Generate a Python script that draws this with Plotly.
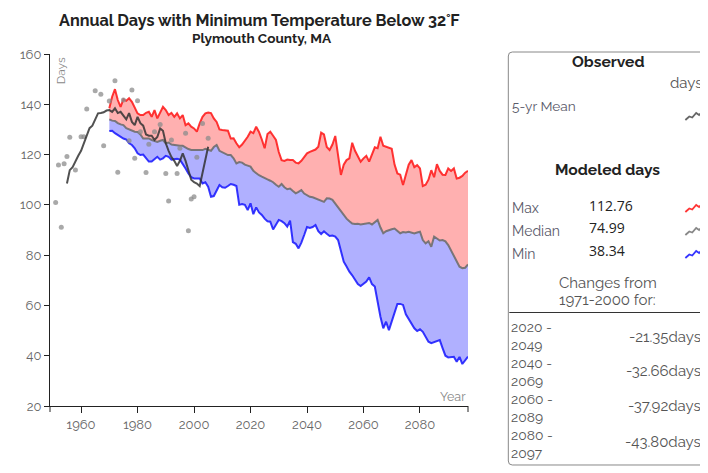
import plotly.graph_objects as go

# ---------------- data ----------------
model_years = list(range(1970, 2098))
model_max = [
    138.4, 143, 146, 141.7, 139, 142, 141.4, 142.4, 141, 139,
    136.4, 135.7, 135.7, 136.6, 137, 135, 137.7, 134.4, 136.4, 139,
    137.7, 135.7, 136.6, 135, 136.4, 134.4, 135.7, 131.7, 132.4, 131.1,
    130.4, 129.1, 132.4, 135, 136.4, 136.7, 136.5, 134.4, 133, 130,
    129.8, 129.5, 129.5, 126.4, 126.5, 124.5, 122.9, 124, 125.5, 127.1,
    129.1, 128.5, 131.1, 129, 126, 122.5, 128.2, 129.1, 127.5, 125.8,
    121, 117.8, 117.5, 118, 117.8, 117.8, 116.8, 116.5, 117.5, 119.1,
    120.5, 121.1, 121.6, 122, 123.1, 128.7, 128, 123, 121.8, 124,
    127.4, 120, 111.9, 116, 117.8, 118.5, 124.7, 121.5, 119.5, 117.2,
    118.5, 119.5, 117.2, 120, 122.9, 122.5, 127.1, 123.5, 123, 122.5,
    122.3, 116, 112.5, 112, 107.9, 112, 116, 117.8, 115, 115.8,
    114.5, 107.5, 108, 110, 113.8, 111, 116.2, 113.5, 112, 111.9,
    114.5, 113.5, 114.5, 110.5, 110.8, 111.5, 112.8, 113.5,
]
model_median = [
    134, 133.5, 133.4, 132.5, 132, 131.7, 130.5, 130, 129.5, 129.1,
    129, 128, 126.4, 126.5, 126.4, 125.8, 125.5, 125, 125.5, 125.8,
    124.5, 124.8, 124, 123.8, 123.8, 123.5, 123.5, 122.8, 122.2, 121.8,
    121.8, 121.8, 121.9, 121.8, 122.3, 122, 121.5, 123, 123.8, 121.5,
    121, 120.5, 119.8, 119.8, 118.5, 116.5, 117, 116.8, 116, 115.6,
    115.2, 113.5, 112.5, 111.8, 111.2, 110.8, 110.1, 109.6, 109, 108,
    107.2, 108.3, 107, 106.2, 106.5, 105.5, 104.6, 105.2, 105.9, 104.5,
    103.8, 103.2, 103, 102.5, 101.9, 101.5, 101.2, 102.6, 102.5, 102,
    100.5, 99.3, 97.5, 96, 94.5, 93.5, 92.6, 92.4, 92.5, 92.2,
    92.4, 92.6, 92.8, 92.2, 93, 94, 91, 88.7, 89.5, 90,
    90.3, 90.6, 89.8, 88.7, 89.2, 89, 89.3, 88.9, 88.6, 89,
    89.3, 86, 84.7, 85.5, 83.3, 87.4, 86.5, 85.8, 86, 85.5,
    84, 82, 80, 77.5, 75.4, 74.8, 75, 76.3,
]
model_min = [
    129.4, 129.5, 128.5, 127.8, 127, 126.4, 126, 124.5, 123.8, 122.5,
    120.5, 119.8, 120, 118.5, 117.2, 117.2, 118, 119.1, 118, 118.5,
    119.5, 119.1, 118, 118.3, 118.3, 118, 116.5, 114.5, 112.5, 111,
    110.5, 110.6, 110.5, 108.5, 109, 107.2, 103.2, 103.5, 106, 107.9,
    107, 106.8, 107.5, 108.3, 108, 107.5, 100, 100.3, 100, 97.9,
    100.6, 96.3, 99, 97, 96, 94.5, 93.5, 93.3, 90.2, 92,
    94, 93.5, 92.7, 91.3, 93.7, 85.2, 84.5, 82.7, 85, 88,
    91.2, 90.8, 91.2, 92, 89.5, 88.4, 89.5, 88.5, 87.6, 87.8,
    87.4, 86, 81.5, 77.4, 75.5, 73.4, 72, 70.1, 68.5, 67.7,
    68.5, 69.5, 71.2, 68.5, 67.5, 60.8, 55.5, 50.9, 53.5, 50.2,
    53.5, 57, 60.6, 60.6, 60.2, 56.5, 54.5, 52.5, 50.9, 49.8,
    50.5, 49.5, 47.5, 45.6, 45, 45.5, 46, 46.2, 43, 40,
    39.3, 39.6, 39.6, 37.6, 39.5, 36.7, 38, 39.6,
]

mean_years = list(range(1955, 2006))
mean_5yr = [
    108.5, 113.8, 115, 117.5, 119.5, 121.5, 124.5, 128, 130.5, 131.5,
    134, 136.4, 136.5, 136.8, 137.5, 137.7, 137, 138.4, 136.5, 137,
    135.5, 134, 136.5, 133, 131.7, 135, 132.5, 131.5, 128, 127.5,
    127.5, 125.8, 127, 130.4, 129.5, 124.5, 121.5, 119, 117.5, 115.5,
    117.5, 120.5, 117.5, 113.5, 110, 109, 108.5, 107.5, 113, 118,
    123.1,
]

obs_years = [1951, 1952, 1953, 1954, 1955, 1956, 1958, 1960, 1961, 1962,
             1965, 1967, 1968, 1970, 1972, 1973, 1975, 1977, 1978, 1979,
             1980, 1981, 1983, 1984, 1986, 1988, 1990, 1991, 1992, 1994,
             1995, 1997, 1998, 1999, 2000, 2001, 2003, 2005]
obs_days = [100.9, 115.9, 91.1, 116.3, 119.2, 126.9, 113.9, 127.1, 127.1, 138.1,
            145.4, 144, 123.5, 141.3, 149.4, 113, 141.7, 125.5, 145.7, 118.5,
            141.4, 129.1, 112.9, 124.1, 129.1, 132, 112.5, 101.5, 125.8, 112.5,
            122.5, 128.5, 89.7, 102.3, 103.2, 118.9, 132.4, 126.5]

x_ticks = [1960, 1980, 2000, 2020, 2040, 2060, 2080]
y_ticks = [20, 40, 60, 80, 100, 120, 140, 160]

legend_values = ["112.76", "74.99", "38.34"]
change_periods = [("2020 -", "2049"), ("2040 -", "2069"), ("2060 -", "2089"), ("2080 -", "2097")]
change_values = ["-21.35days", "-32.66days", "-37.92days", "-43.80days"]

# ---------------- layout geometry (window pixels; page body has 8px margin) ----------------
OFF = 8
WIN_W, WIN_H = 708, 473
W, H = WIN_W - OFF, WIN_H - OFF
L, R, T, B = 43, 468, 54, 406
FONT = "Raleway, Lato, sans-serif"
NUMFONT = "'Open Sans', sans-serif"


def X(px):
    return (px - L) / (R - L)


def Y(py):
    return (B - py) / (B - T)


fig = go.Figure()

# fills (drawn first, lines on top)
fig.add_trace(go.Scatter(x=model_years, y=model_min, mode="lines",
                         line=dict(width=0, color="rgba(0,0,0,0)"),
                         hoverinfo="skip", showlegend=False))
fig.add_trace(go.Scatter(x=model_years, y=model_median, mode="lines",
                         line=dict(width=0, color="rgba(0,0,0,0)"),
                         fill="tonexty", fillcolor="rgba(0,0,255,0.31)",
                         hoverinfo="skip", showlegend=False))
fig.add_trace(go.Scatter(x=model_years, y=model_max, mode="lines",
                         line=dict(width=0, color="rgba(0,0,0,0)"),
                         fill="tonexty", fillcolor="rgba(255,0,0,0.31)",
                         hoverinfo="skip", showlegend=False))

# lines
fig.add_trace(go.Scatter(x=model_years, y=model_max, mode="lines",
                         line=dict(width=2, color="rgba(255,20,20,0.85)"),
                         name="Max", showlegend=False))
fig.add_trace(go.Scatter(x=model_years, y=model_min, mode="lines",
                         line=dict(width=2, color="rgba(20,20,255,0.85)"),
                         name="Min", showlegend=False))
fig.add_trace(go.Scatter(x=model_years, y=model_median, mode="lines",
                         line=dict(width=2, color="rgba(110,110,110,0.9)"),
                         name="Median", showlegend=False))

# observed
fig.add_trace(go.Scatter(x=obs_years, y=obs_days, mode="markers",
                         marker=dict(size=5, color="rgba(140,140,140,0.75)"),
                         name="Observed", showlegend=False))
fig.add_trace(go.Scatter(x=mean_years, y=mean_5yr, mode="lines",
                         line=dict(width=2, color="rgba(50,50,50,0.85)"),
                         name="5-yr Mean", showlegend=False))

annotations = []


def text(px, py, s, size=12, color="#555", bold=False, xanchor="left", yanchor="middle",
         family=FONT, align="left"):
    annotations.append(dict(
        x=X(px), y=Y(py), xref="paper", yref="paper", text=f"<b>{s}</b>" if bold else s,
        showarrow=False, xanchor=xanchor, yanchor=yanchor, align=align,
        font=dict(family=family, size=size, color=color)))


# titles
text(256, 8.5, "Annual Days with Minimum Temperature Below 32˚F", size=16.2, color="#222", bold=True,
     xanchor="center", yanchor="top")
text(259, 38, "Plymouth County, MA", size=13.6, color="#222", bold=True, xanchor="center")

# axis labels
annotations.append(dict(x=X(55), y=Y(55), xref="paper", yref="paper", text="Days", textangle=-90,
                        showarrow=False, xanchor="center", yanchor="top",
                        font=dict(family=FONT, size=12, color="#888")))
text(468, 396, "Year", size=12.5, color="#888", xanchor="right")

# legend panel
text(610, 62, "Observed", size=15.6, color="#222", bold=True, xanchor="center")
text(708, 83, "days", size=15, color="#555", xanchor="right")
text(511, 106, "5-yr Mean", size=13.7, color="#5a5a6a")
text(610, 169, "Modeled days", size=15.6, color="#222", bold=True, xanchor="center")
for (lab, py), val in zip([("Max", 208), ("Median", 231), ("Min", 254)], legend_values):
    text(511, py, lab, size=14, color="#5a5a6a")
    text(589, py - 3, val, size=14, color="#222", family=NUMFONT)
text(610, 283, "Changes from", size=15, color="#555", xanchor="center")
text(610, 300, "1971-2000 for:", size=15, color="#555", xanchor="center")

# period labels as one block of lines (tightly packed as in the reference)
period_lines = "<br>".join(f"{a}<br>{b}" for a, b in change_periods)
text(510, 389.7, period_lines, size=13.85, color="#555")
row_y = [336.5, 370.5, 405.5, 441.5]
for v, ry in zip(change_values, row_y):
    text(707, ry, v, size=15, color="#555", xanchor="right")

shapes = []


def path_px(points):
    return "M " + " L ".join(f"{X(px):.5f},{Y(py):.5f}" for px, py in points)


# rounded legend box
bx0, by0, bx1, by1, r = 509, 52, 716, 465, 4
box = (f"M {X(bx1):.5f},{Y(by0):.5f} L {X(bx0 + r):.5f},{Y(by0):.5f} "
       f"Q {X(bx0):.5f},{Y(by0):.5f} {X(bx0):.5f},{Y(by0 + r):.5f} "
       f"L {X(bx0):.5f},{Y(by1 - r):.5f} "
       f"Q {X(bx0):.5f},{Y(by1):.5f} {X(bx0 + r):.5f},{Y(by1):.5f} "
       f"L {X(bx1):.5f},{Y(by1):.5f}")
shapes.append(dict(type="path", xref="paper", yref="paper", path=box,
                   line=dict(color="#888", width=1)))
# separator line
shapes.append(dict(type="line", xref="paper", yref="paper", x0=X(510), x1=X(710),
                   y0=Y(312.5), y1=Y(312.5), line=dict(color="#333", width=1.2)))

# sparkline icons
icon = [(0, 0), (4, -3.5), (7, -2.5), (11, -7), (14, -5), (18, -9.5)]
for base_y, col in [(120, "#666"), (212, "rgba(255,30,30,0.9)"), (235, "#888"), (258, "rgba(30,30,255,0.9)")]:
    shapes.append(dict(type="path", xref="paper", yref="paper",
                       path=path_px([(689 + dx, base_y + dy) for dx, dy in icon]),
                       line=dict(color=col, width=1.8)))

# outer ticks at ends of x axis
for px in (L, R):
    shapes.append(dict(type="line", xref="paper", yref="paper", x0=X(px), x1=X(px),
                       y0=Y(B), y1=Y(B + 6), line=dict(color="#222", width=1)))

fig.update_layout(
    width=W, height=H,
    margin=dict(l=L - OFF, r=WIN_W - R, t=T - OFF, b=WIN_H - B, pad=0),
    paper_bgcolor="white", plot_bgcolor="white",
    showlegend=False,
    annotations=annotations,
    shapes=shapes,
    font=dict(family=FONT),
    xaxis=dict(range=[1949, 2097], tickvals=x_ticks, ticks="outside", ticklen=6,
               tickcolor="#222", showline=True, linecolor="#222", linewidth=1,
               showgrid=False, zeroline=False,
               tickfont=dict(family=FONT, size=13, color="#666")),
    yaxis=dict(range=[20, 160], tickvals=y_ticks, ticks="outside", ticklen=5,
               tickcolor="#222", showline=True, linecolor="#222", linewidth=1,
               showgrid=False, zeroline=False,
               tickfont=dict(family=FONT, size=13, color="#666")),
)

fig.write_html("out.html")
